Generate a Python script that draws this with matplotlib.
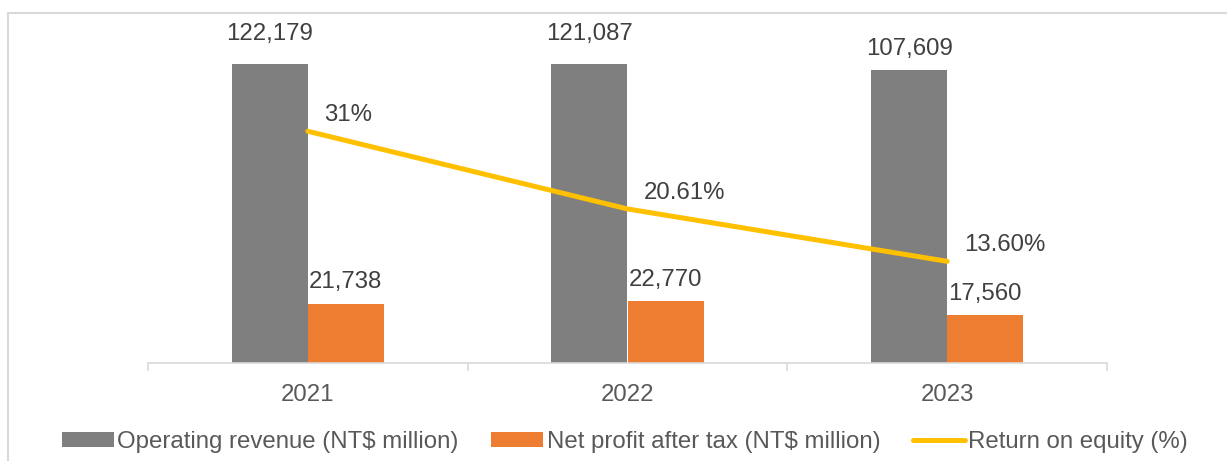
import matplotlib
matplotlib.use("Agg")
import matplotlib.pyplot as plt
import matplotlib.patches as patches
import numpy as np

plt.rcParams['font.family'] = ['Liberation Sans', 'DejaVu Sans']

# data
years = ['2021', '2022', '2023']
revenue = [122179, 121087, 107609]
net_profit = [21738, 22770, 17560]
roe = [31.0, 20.61, 13.60]
roe_labels = ['31%', '20.61%', '13.60%']

GRAY = '#7f7f7f'
ORANGE = '#ed7d31'
GOLD = '#ffc000'
TXT = '#404040'
AXC = '#d9d9d9'
FS = 17.3

W, H = 1227, 461
fig = plt.figure(figsize=(W / 100, H / 100), dpi=100)
ax = fig.add_axes([148 / W, 1 - 363 / H, (1107 - 148) / W, (363 - 64) / H])

x = np.arange(len(years))
bw = 0.238
ax.bar(x - bw / 2, revenue, bw, color=GRAY, label='Operating revenue (NT$ million)')
ax.bar(x + bw / 2, net_profit, bw, color=ORANGE, label='Net profit after tax (NT$ million)')

ymax = 110000
ax.set_ylim(0, ymax)
ax.set_xlim(-0.5, len(years) - 0.5)

# value labels (clipped bars get their label at the top of the plot)
for xs, vals in ((x - bw / 2, revenue), (x + bw / 2, net_profit)):
    for xi, v in zip(xs, vals):
        top = min(v, ymax)
        off = 14 if v > ymax else 7.5
        ax.annotate(f'{v:,}', (xi, top), xytext=(0, off), textcoords='offset points',
                    ha='center', va='bottom', fontsize=FS, color=TXT, annotation_clip=False)

ax.spines[['top', 'left', 'right']].set_visible(False)
ax.spines['bottom'].set_color(AXC)
ax.spines['bottom'].set_linewidth(1.2)
ax.set_yticks([])
ax.set_xticks(x)
ax.set_xticklabels(years, fontsize=FS, color='#595959')
ax.tick_params(axis='x', which='major', length=0, pad=15)
ax.set_xticks(np.arange(-0.5, len(years)), minor=True)
ax.tick_params(axis='x', which='minor', length=6, color=AXC, width=1.2)

ax2 = ax.twinx()
ax2.plot(x, roe, color=GOLD, lw=3.6, solid_capstyle='round', label='Return on equity (%)')
ax2.set_ylim(0, 40)
ax2.axis('off')
for xi, v, t in zip(x, roe, roe_labels):
    ax2.annotate(t, (xi, v), xytext=(12, 11.5), textcoords='offset points',
                 ha='left', va='center', fontsize=FS, color=TXT)

h1, l1 = ax.get_legend_handles_labels()
h2, l2 = ax2.get_legend_handles_labels()
fig.legend(h1 + h2, l1 + l2, loc='center', bbox_to_anchor=(625 / W, 1 - 442 / H),
           ncol=3, frameon=False, fontsize=FS, labelcolor='#595959',
           handlelength=2.16, handleheight=0.54, handletextpad=0.15, columnspacing=1.35)

# outer chart border
fig.patches.append(patches.Rectangle((8 / W, -0.1), 1.2, 1.1 - 13.5 / H,
                                     transform=fig.transFigure, fill=False,
                                     edgecolor=AXC, lw=1.5))

fig.savefig('out.png', dpi=100)
